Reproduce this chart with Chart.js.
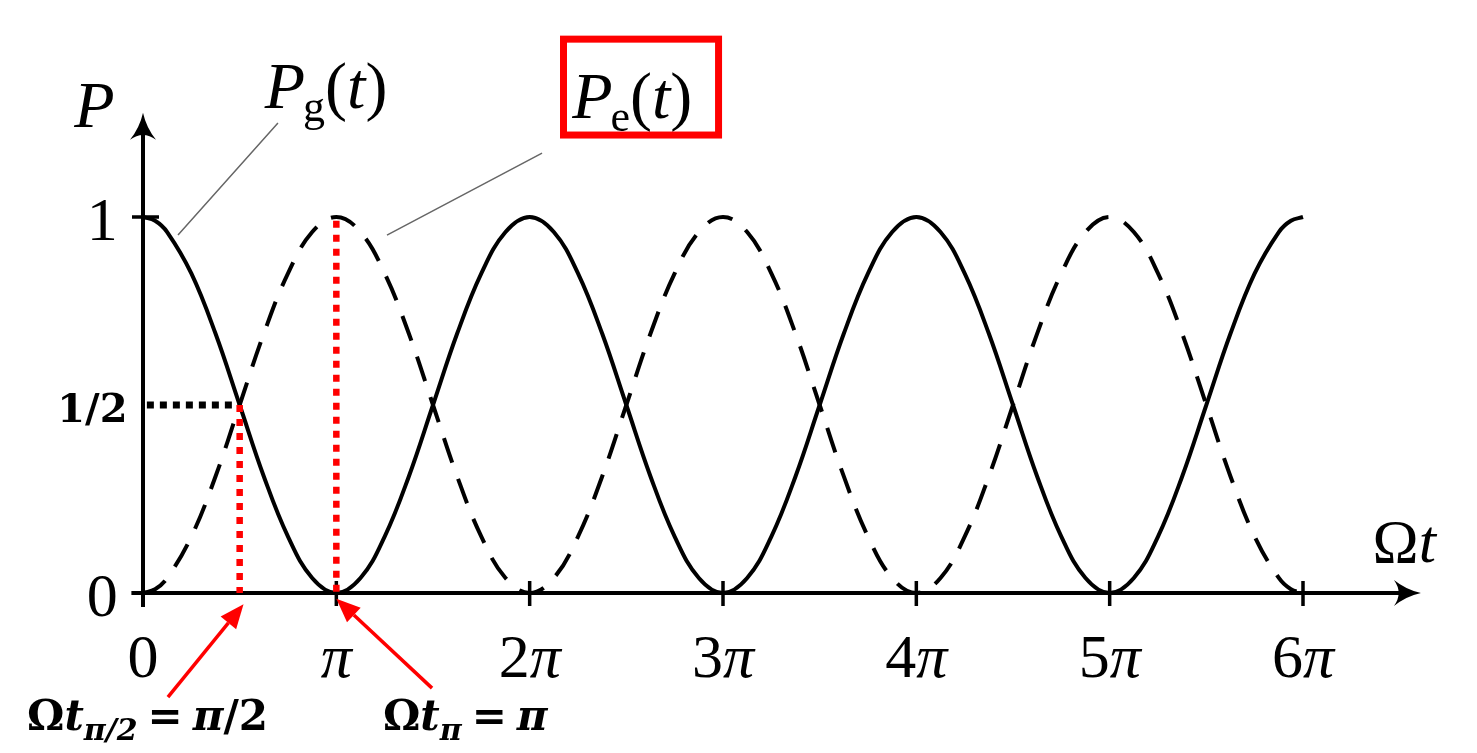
<!DOCTYPE html>
<html>
<head>
<meta charset="utf-8">
<script src="https://cdn.jsdelivr.net/npm/chart.js@4.4.1/dist/chart.umd.min.js"></script>
<style>
  html, body { margin: 0; background: #fff; }
  #wrap { width: 1477px; height: 753px; position: relative; }
</style>
</head>
<body>
<div id="wrap"><canvas id="rabi"></canvas></div>
<script>
// Omega*t in units of pi, read every pi/8 (plus pi/16 near both ends)
const omegaT = [
  0, 0.0625, 0.125, 0.25, 0.375, 0.5, 0.625, 0.75, 0.875,
  1, 1.125, 1.25, 1.375, 1.5, 1.625, 1.75, 1.875,
  2, 2.125, 2.25, 2.375, 2.5, 2.625, 2.75, 2.875,
  3, 3.125, 3.25, 3.375, 3.5, 3.625, 3.75, 3.875,
  4, 4.125, 4.25, 4.375, 4.5, 4.625, 4.75, 4.875,
  5, 5.125, 5.25, 5.375, 5.5, 5.625, 5.75, 5.875, 5.9375,
  6,
];
// ground state population (solid)
const pGround = [
  1, 0.99, 0.96, 0.85, 0.69, 0.5, 0.31, 0.15, 0.04,
  0, 0.04, 0.15, 0.31, 0.5, 0.69, 0.85, 0.96,
  1, 0.96, 0.85, 0.69, 0.5, 0.31, 0.15, 0.04,
  0, 0.04, 0.15, 0.31, 0.5, 0.69, 0.85, 0.96,
  1, 0.96, 0.85, 0.69, 0.5, 0.31, 0.15, 0.04,
  0, 0.04, 0.15, 0.31, 0.5, 0.69, 0.85, 0.96, 0.99,
  1,
];
// excited state population (dashed)
const pExcited = [
  0, 0.01, 0.04, 0.15, 0.31, 0.5, 0.69, 0.85, 0.96,
  1, 0.96, 0.85, 0.69, 0.5, 0.31, 0.15, 0.04,
  0, 0.04, 0.15, 0.31, 0.5, 0.69, 0.85, 0.96,
  1, 0.96, 0.85, 0.69, 0.5, 0.31, 0.15, 0.04,
  0, 0.04, 0.15, 0.31, 0.5, 0.69, 0.85, 0.96,
  1, 0.96, 0.85, 0.69, 0.5, 0.31, 0.15, 0.04, 0.01,
  0,
];
const xTicks = [0, 1, 2, 3, 4, 5, 6];
const xTickLabels = ["0", "π", "2π", "3π", "4π", "5π", "6π"];
const yTicks = [0, 1];
const yTickLabels = ["0", "1"];
const halfLevel = 0.5;
const halfTime = 0.5;   // pi/2
const piTime = 1;       // pi

const SERIF = '"Liberation Serif", "DejaVu Serif", serif';
const BOLD = '"DejaVu Serif", serif';

function fontOf(style, size, family) {
  return `${style} ${size}px ${family}`;
}

// draw a run of text pieces: {t, f, dy, gap}
function drawRich(ctx, x, y, parts, align) {
  let total = 0;
  parts.forEach((p) => { ctx.font = p.f; total += ctx.measureText(p.t).width + (p.gap || 0); });
  let cx = align === "center" ? x - total / 2 : align === "right" ? x - total : x;
  ctx.textAlign = "left";
  ctx.textBaseline = "alphabetic";
  parts.forEach((p) => {
    ctx.font = p.f;
    ctx.fillText(p.t, cx, y + (p.dy || 0));
    cx += ctx.measureText(p.t).width + (p.gap || 0);
  });
}

function mathParts(label, size) {
  return label.split("").map((ch) => ({ t: ch, f: fontOf(ch === "π" ? "italic" : "normal", size, SERIF) }));
}

function dottedLine(ctx, x1, y1, x2, y2, color, width, dash) {
  ctx.save();
  ctx.strokeStyle = color;
  ctx.lineWidth = width;
  ctx.setLineDash(dash);
  ctx.beginPath();
  ctx.moveTo(x1, y1);
  ctx.lineTo(x2, y2);
  ctx.stroke();
  ctx.restore();
}

function arrowLine(ctx, x1, y1, x2, y2, color) {
  const ang = Math.atan2(y2 - y1, x2 - x1);
  const len = 24, half = 10;
  const bx = x2 - Math.cos(ang) * len, by = y2 - Math.sin(ang) * len;
  ctx.save();
  ctx.strokeStyle = color;
  ctx.fillStyle = color;
  ctx.lineWidth = 3.5;
  ctx.beginPath();
  ctx.moveTo(x1, y1);
  ctx.lineTo(bx, by);
  ctx.stroke();
  ctx.beginPath();
  ctx.moveTo(x2, y2);
  ctx.lineTo(bx - Math.sin(ang) * half, by + Math.cos(ang) * half);
  ctx.lineTo(bx + Math.sin(ang) * half, by - Math.cos(ang) * half);
  ctx.closePath();
  ctx.fill();
  ctx.restore();
}

function axisHead(ctx, tx, ty, ang) {
  const len = 27, half = 13;
  const c = Math.cos(ang), s = Math.sin(ang);
  const pt = (a, b) => [tx + a * c - b * s, ty + a * s + b * c];
  ctx.beginPath();
  ctx.moveTo(tx, ty);
  ctx.quadraticCurveTo(...pt(-len * 0.55, -half * 0.25), ...pt(-len, -half));
  ctx.quadraticCurveTo(...pt(-len * 0.65, 0), ...pt(-len, half));
  ctx.quadraticCurveTo(...pt(-len * 0.55, half * 0.25), tx, ty);
  ctx.closePath();
  ctx.fill();
}

const axesPlugin = {
  id: "axes",
  beforeDatasetsDraw(chart) {
    const { ctx, scales: { x, y } } = chart;
    ctx.save();
    ctx.strokeStyle = "#000";
    ctx.fillStyle = "#000";
    ctx.lineWidth = 4;
    const x0 = x.getPixelForValue(0), y0 = y.getPixelForValue(0);
    const xEnd = x.getPixelForValue(6.61), yTop = y.getPixelForValue(1.277);
    ctx.beginPath();
    ctx.moveTo(x.getPixelForValue(-0.06), y0);
    ctx.lineTo(xEnd - 12, y0);
    ctx.moveTo(x0, y.getPixelForValue(-0.037));
    ctx.lineTo(x0, yTop + 12);
    ctx.stroke();
    axisHead(ctx, xEnd, y0, 0);
    axisHead(ctx, x0, yTop, -Math.PI / 2);

    // ticks
    ctx.lineWidth = 3.5;
    ctx.beginPath();
    xTicks.forEach((v) => {
      const px = x.getPixelForValue(v);
      ctx.moveTo(px, y0 - 12);
      ctx.lineTo(px, y0 + 13);
    });
    yTicks.forEach((v) => {
      const py = y.getPixelForValue(v);
      ctx.moveTo(x0 - 11, py);
      ctx.lineTo(x0 + 16, py);
    });
    ctx.stroke();

    // tick labels
    xTicks.forEach((v, i) => {
      drawRich(ctx, x.getPixelForValue(v), y.getPixelForValue(-0.223), mathParts(xTickLabels[i], 62), "center");
    });
    yTicks.forEach((v, i) => {
      drawRich(ctx, x.getPixelForValue(-0.13), y.getPixelForValue(v - 0.06), mathParts(yTickLabels[i], 62), "right");
    });

    // axis titles
    drawRich(ctx, x.getPixelForValue(-0.355), y.getPixelForValue(1.239), [{ t: "P", f: fontOf("italic", 66, SERIF) }], "left");
    drawRich(ctx, x.getPixelForValue(6.36), y.getPixelForValue(0.082), [
      { t: "Ω", f: fontOf("normal", 62, SERIF) },
      { t: "t", f: fontOf("italic", 62, SERIF) },
    ], "left");
    ctx.restore();
  },
  afterDatasetsDraw(chart) {
    const { ctx, scales: { x, y } } = chart;
    ctx.save();
    ctx.fillStyle = "#000";

    // 1/2 guide and the two marked times
    dottedLine(ctx, x.getPixelForValue(0.02), y.getPixelForValue(halfLevel), x.getPixelForValue(halfTime), y.getPixelForValue(halfLevel), "#000", 7, [7, 6]);
    dottedLine(ctx, x.getPixelForValue(halfTime), y.getPixelForValue(halfLevel), x.getPixelForValue(halfTime), y.getPixelForValue(0), "#ff0000", 6.5, [7, 7]);
    dottedLine(ctx, x.getPixelForValue(piTime), y.getPixelForValue(0.99), x.getPixelForValue(piTime), y.getPixelForValue(0), "#ff0000", 6.5, [7, 7]);
    drawRich(ctx, x.getPixelForValue(-0.08), y.getPixelForValue(halfLevel - 0.045), [{ t: "1/2", f: fontOf("bold", 40, BOLD) }], "right");

    // curve labels with leader lines
    ctx.strokeStyle = "#666";
    ctx.lineWidth = 1.5;
    ctx.beginPath();
    ctx.moveTo(x.getPixelForValue(0.698), y.getPixelForValue(1.25));
    ctx.lineTo(x.getPixelForValue(0.181), y.getPixelForValue(0.952));
    ctx.moveTo(x.getPixelForValue(2.064), y.getPixelForValue(1.17));
    ctx.lineTo(x.getPixelForValue(1.262), y.getPixelForValue(0.952));
    ctx.stroke();

    const big = 66, sub = 44;
    drawRich(ctx, x.getPixelForValue(0.63), y.getPixelForValue(1.29), [
      { t: "P", f: fontOf("italic", big, SERIF), gap: -2 },
      { t: "g", f: fontOf("normal", sub, SERIF), dy: 13 },
      { t: "(", f: fontOf("normal", big, SERIF) },
      { t: "t", f: fontOf("italic", big, SERIF) },
      { t: ")", f: fontOf("normal", big, SERIF) },
    ], "left");
    drawRich(ctx, x.getPixelForValue(2.22), y.getPixelForValue(1.263), [
      { t: "P", f: fontOf("italic", big, SERIF), gap: -2 },
      { t: "e", f: fontOf("normal", sub, SERIF), dy: 13 },
      { t: "(", f: fontOf("normal", big, SERIF) },
      { t: "t", f: fontOf("italic", big, SERIF) },
      { t: ")", f: fontOf("normal", big, SERIF) },
    ], "left");
    ctx.strokeStyle = "#ff0000";
    ctx.lineWidth = 7;
    const bx1 = x.getPixelForValue(2.175), bx2 = x.getPixelForValue(2.977);
    const by1 = y.getPixelForValue(1.473), by2 = y.getPixelForValue(1.218);
    ctx.strokeRect(bx1, by1, bx2 - bx1, by2 - by1);

    // red arrows and time labels
    arrowLine(ctx, x.getPixelForValue(0.129), y.getPixelForValue(-0.277), x.getPixelForValue(0.52), y.getPixelForValue(-0.03), "#ff0000");
    arrowLine(ctx, x.getPixelForValue(1.495), y.getPixelForValue(-0.253), x.getPixelForValue(1.0), y.getPixelForValue(-0.015), "#ff0000");

    const lf = 42, sf = 30;
    drawRich(ctx, x.getPixelForValue(-0.6), y.getPixelForValue(-0.364), [
      { t: "Ω", f: fontOf("bold", lf, BOLD) },
      { t: "t", f: fontOf("italic bold", lf, BOLD) },
      { t: "π/2", f: fontOf("italic bold", sf, BOLD), dy: 10, gap: 10 },
      { t: "=", f: fontOf("bold", lf, BOLD), gap: 10 },
      { t: "π", f: fontOf("italic bold", lf, BOLD) },
      { t: "/2", f: fontOf("bold", lf, BOLD) },
    ], "left");
    drawRich(ctx, x.getPixelForValue(1.241), y.getPixelForValue(-0.364), [
      { t: "Ω", f: fontOf("bold", lf, BOLD) },
      { t: "t", f: fontOf("italic bold", lf, BOLD) },
      { t: "π", f: fontOf("italic bold", sf, BOLD), dy: 10, gap: 10 },
      { t: "=", f: fontOf("bold", lf, BOLD), gap: 10 },
      { t: "π", f: fontOf("italic bold", lf, BOLD) },
    ], "left");
    ctx.restore();
  },
};

new Chart(document.getElementById("rabi"), {
  type: "line",
  data: {
    datasets: [
      {
        label: "Pg(t)",
        data: omegaT.map((v, i) => ({ x: v, y: pGround[i] })),
        borderColor: "#000",
        borderWidth: 4,
        pointRadius: 0,
        tension: 0.4,
        clip: false,
      },
      {
        label: "Pe(t)",
        data: omegaT.map((v, i) => ({ x: v, y: pExcited[i] })),
        borderColor: "#000",
        borderWidth: 4,
        borderDash: [26, 17],
        pointRadius: 0,
        tension: 0.4,
        clip: false,
      },
    ],
  },
  options: {
    responsive: true,
    maintainAspectRatio: false,
    animation: false,
    layout: { padding: { left: 143, right: 174, top: 217, bottom: 160 } },
    plugins: { legend: { display: false }, tooltip: { enabled: false } },
    scales: {
      x: { type: "linear", min: 0, max: 6, display: false },
      y: { min: 0, max: 1, display: false },
    },
  },
  plugins: [axesPlugin],
});
</script>
</body>
</html>
